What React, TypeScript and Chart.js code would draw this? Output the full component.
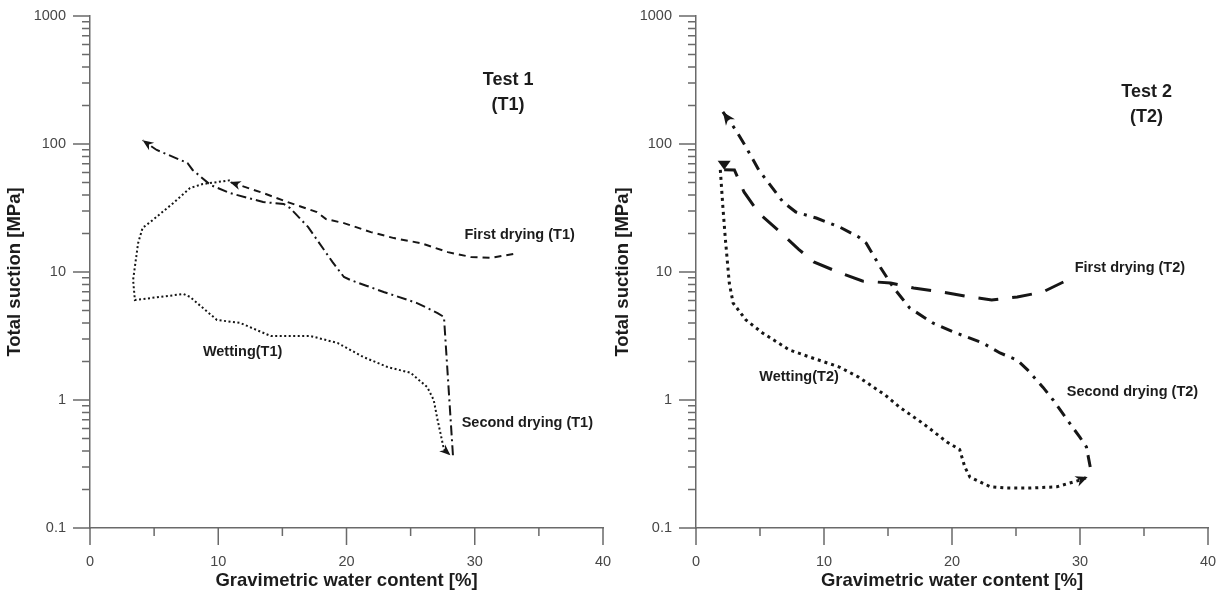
import React, { useEffect, useRef } from "react";
import { Chart, registerables } from "chart.js";

Chart.register(...registerables);

// ---------- axis ticks ----------
const X_TICKS = [0, 5, 10, 15, 20, 25, 30, 35, 40];
const X_LABELS = [0, 10, 20, 30, 40];
const Y_DECADES = [0.1, 1, 10, 100, 1000];
const Y_MINOR_MULT = [2, 3, 4, 5, 6, 7, 8, 9];

// ---------- Test 1 ----------
const T1_FIRST_X = [33.0, 31.25, 29.7, 27.9, 25.8, 23.7, 21.9, 19.8, 18.4, 17.7, 15.4, 13.5, 10.9];
const T1_FIRST_Y = [13.8, 12.9, 13.1, 14.3, 16.8, 18.4, 20.5, 24.1, 25.9, 29.4, 35.2, 41.4, 50.5];

const T1_WET_X = [10.9, 8.8, 7.8, 6.5, 4.9, 4.1, 3.75, 3.36, 3.5, 7.3, 7.8, 9.9, 11.7, 14.1, 17.2, 19.3, 21.3, 23.2, 25.0, 26.3, 26.8, 27.1, 27.6, 28.1];
const T1_WET_Y = [52, 48.7, 45.3, 34.6, 25.5, 22.1, 16.8, 8.66, 6.04, 6.73, 6.38, 4.22, 4.0, 3.16, 3.16, 2.79, 2.17, 1.81, 1.63, 1.26, 1.0, 0.7, 0.41, 0.37];

const T1_SECOND_X = [28.3, 27.6, 27.1, 25.5, 22.9, 21.6, 20.3, 19.8, 18.9, 17.0, 15.6, 15.1, 13.5, 10.9, 9.4, 8.0, 7.6, 5.2, 4.1];
const T1_SECOND_Y = [0.37, 4.45, 4.78, 5.72, 6.98, 7.78, 8.66, 9.14, 12.0, 22.5, 31.6, 34.0, 35.2, 41.4, 47.8, 62.7, 71.1, 89.8, 107];

// ---------- Test 2 ----------
const T2_FIRST_X = [28.7, 27.1, 25.1, 23.1, 21.0, 19.2, 17.0, 15.2, 13.0, 11.3, 9.2, 8.0, 6.4, 4.9, 3.75, 3.0, 2.2];
const T2_FIRST_Y = [8.35, 6.98, 6.38, 6.04, 6.49, 6.98, 7.5, 8.2, 8.5, 9.8, 12.0, 15.1, 21.3, 28.9, 42.2, 62.7, 63];

const T2_WET_X = [1.9, 2.1, 2.3, 2.6, 2.9, 3.9, 5.2, 7.3, 9.1, 11.2, 12.7, 14.8, 15.9, 17.7, 19.6, 20.6, 21.0, 21.4, 23.0, 24.3, 26.1, 28.2, 30.0, 30.6];
const T2_WET_Y = [62.7, 32.2, 17.8, 8.2, 5.72, 4.22, 3.34, 2.46, 2.13, 1.81, 1.51, 1.09, 0.88, 0.66, 0.47, 0.41, 0.3, 0.25, 0.21, 0.205, 0.205, 0.21, 0.237, 0.25];

const T2_SECOND_X = [30.8, 30.5, 30.0, 29.0, 27.9, 27.1, 25.9, 25.1, 23.75, 22.4, 20.1, 18.5, 16.7, 16.2, 15.4, 14.4, 13.3, 12.7, 11.2, 9.4, 7.8, 6.8, 5.5, 4.9, 3.9, 3.1, 2.1];
const T2_SECOND_Y = [0.3, 0.43, 0.51, 0.7, 1.0, 1.26, 1.72, 2.05, 2.33, 2.79, 3.4, 4.0, 5.23, 6.04, 7.63, 10.9, 16.8, 18.8, 22.5, 26.4, 29.4, 35.2, 52.3, 62.7, 94.8, 129, 178];

// ---------- annotations (data coordinates) ----------
const T1_NOTES = [
  { text: "Test 1", x: 32.6, y: 316, size: 18 },
  { text: "(T1)", x: 32.6, y: 202, size: 18 },
  { text: "First drying (T1)", x: 33.5, y: 19.5, size: 14.5 },
  { text: "Wetting(T1)", x: 11.9, y: 2.37, size: 14.5 },
  { text: "Second drying (T1)", x: 34.1, y: 0.66, size: 14.5 },
];
const T2_NOTES = [
  { text: "Test 2", x: 35.2, y: 255, size: 18 },
  { text: "(T2)", x: 35.2, y: 163, size: 18 },
  { text: "First drying (T2)", x: 33.9, y: 10.7, size: 14.5 },
  { text: "Second drying (T2)", x: 34.1, y: 1.15, size: 14.5 },
  { text: "Wetting(T2)", x: 8.05, y: 1.51, size: 14.5 },
];

const FONT = "'Liberation Sans', Arial, Helvetica, sans-serif";
const AXIS_COLOR = "#6a6a6a";
const LINE_COLOR = "#161616";
const TEXT_COLOR = "#1c1c1c";
const TICK_COLOR = "#474747";

const pts = (xs: number[], ys: number[]) => xs.map((x, i) => ({ x, y: ys[i] }));

const Y_TICKS: number[] = (() => {
  const t: number[] = [];
  Y_DECADES.forEach((d) => {
    t.push(d);
    if (d < 1000) Y_MINOR_MULT.forEach((m) => t.push(+(d * m).toPrecision(3)));
  });
  return t;
})();

// tick marks and tick labels drawn from the scales' own ticks
const tickMarks = {
  id: "tickMarks",
  afterDraw(chart: any) {
    const { ctx, chartArea, scales } = chart;
    const xs = scales.x;
    const ys = scales.y;
    ctx.save();
    ctx.strokeStyle = AXIS_COLOR;
    ctx.lineWidth = 1.5;
    ctx.beginPath();
    xs.ticks.forEach((t: any) => {
      const px = xs.getPixelForValue(t.value);
      const len = X_LABELS.includes(t.value) ? 17 : 8;
      ctx.moveTo(px, chartArea.bottom);
      ctx.lineTo(px, chartArea.bottom + len);
    });
    ys.ticks.forEach((t: any) => {
      const py = ys.getPixelForValue(t.value);
      const len = Y_DECADES.includes(t.value) ? 17 : 8;
      ctx.moveTo(chartArea.left, py);
      ctx.lineTo(chartArea.left - len, py);
    });
    ctx.stroke();

    ctx.fillStyle = TICK_COLOR;
    ctx.font = `14.5px ${FONT}`;
    ctx.textAlign = "center";
    ctx.textBaseline = "middle";
    X_LABELS.forEach((v) => {
      ctx.fillText(String(v), xs.getPixelForValue(v), chartArea.bottom + 34);
    });
    ctx.textAlign = "right";
    Y_DECADES.forEach((v) => {
      ctx.fillText(String(v), chartArea.left - 24, ys.getPixelForValue(v));
    });
    ctx.restore();
  },
};

const arrows = {
  id: "arrows",
  afterDatasetsDraw(chart: any) {
    const { ctx } = chart;
    chart.data.datasets.forEach((ds: any, i: number) => {
      if (!ds.arrow) return;
      const data = chart.getDatasetMeta(i).data;
      const a = data[data.length - 1];
      const b = data[data.length - 2];
      const ang = ds.arrow.angle !== undefined ? ds.arrow.angle : Math.atan2(a.y - b.y, a.x - b.x);
      const L = ds.arrow.len;
      const W = ds.arrow.width;
      const notch = ds.arrow.notch !== undefined ? ds.arrow.notch : 0.7;
      ctx.save();
      ctx.translate(a.x, a.y);
      ctx.rotate(ang);
      ctx.fillStyle = LINE_COLOR;
      ctx.beginPath();
      ctx.moveTo(0, 0);
      ctx.lineTo(-L, -W);
      ctx.lineTo(-L * notch, 0);
      ctx.lineTo(-L, W);
      ctx.closePath();
      ctx.fill();
      ctx.restore();
    });
  },
};

const notes = {
  id: "notes",
  afterDraw(chart: any, _args: any, opts: any) {
    const { ctx, scales } = chart;
    ctx.save();
    ctx.fillStyle = TEXT_COLOR;
    ctx.textAlign = "center";
    ctx.textBaseline = "middle";
    (opts.items || []).forEach((n: any) => {
      ctx.font = `bold ${n.size}px ${FONT}`;
      ctx.fillText(n.text, scales.x.getPixelForValue(n.x), scales.y.getPixelForValue(n.y));
    });
    ctx.restore();
  },
};

function line(data: any[], dash: number[], width: number, arrow?: any) {
  return {
    data,
    showLine: true,
    borderColor: LINE_COLOR,
    borderWidth: width,
    borderDash: dash,
    pointRadius: 0,
    fill: false,
    tension: 0,
    arrow,
  };
}

function makeConfig(datasets: any[], items: any[], yWidth: number, padRight: number, titlePad: number) {
  return {
    type: "scatter",
    data: { datasets },
    plugins: [tickMarks, arrows, notes],
    options: {
      responsive: false,
      animation: false,
      devicePixelRatio: 1,
      layout: { padding: { top: 16, right: padRight, left: 0, bottom: 0 } },
      plugins: {
        legend: { display: false },
        tooltip: { enabled: false },
        notes: { items },
      },
      scales: {
        x: {
          type: "linear",
          min: 0,
          max: 40,
          afterBuildTicks: (s: any) => {
            s.ticks = X_TICKS.map((v) => ({ value: v }));
          },
          afterFit: (s: any) => {
            s.height = 66;
          },
          grid: { drawOnChartArea: false, drawTicks: false },
          border: { display: true, color: AXIS_COLOR, width: 1.5 },
          ticks: { display: false, autoSkip: false, padding: 0 },
          title: {
            display: true,
            text: "Gravimetric water content [%]",
            color: TEXT_COLOR,
            font: { family: FONT, size: 18.5, weight: "bold" },
            padding: { top: 0, bottom: 2 },
          },
        },
        y: {
          type: "logarithmic",
          min: 0.1,
          max: 1000,
          afterBuildTicks: (s: any) => {
            s.ticks = Y_TICKS.map((v) => ({ value: v }));
          },
          afterFit: (s: any) => {
            s.width = yWidth;
          },
          grid: { drawOnChartArea: false, drawTicks: false },
          border: { display: true, color: AXIS_COLOR, width: 1.5 },
          ticks: { display: false, autoSkip: false, padding: 0 },
          title: {
            display: true,
            text: "Total suction [MPa]",
            color: TEXT_COLOR,
            font: { family: FONT, size: 18.5, weight: "bold" },
            padding: { top: titlePad, bottom: 0 },
          },
        },
      },
    },
  };
}

function Panel({ left, width, config }: { left: number; width: number; config: any }) {
  const ref = useRef<HTMLCanvasElement | null>(null);
  useEffect(() => {
    if (!ref.current) return;
    const chart = new Chart(ref.current, config);
    return () => chart.destroy();
  }, [config]);
  return (
    <canvas
      ref={ref}
      width={width}
      height={594}
      style={{ position: "absolute", left, top: 0, width, height: 594 }}
    />
  );
}

const T1_CONFIG = makeConfig(
  [
    line(pts(T1_FIRST_X, T1_FIRST_Y), [7, 5], 2, { len: 11, width: 4.5 }),
    line(pts(T1_WET_X, T1_WET_Y), [2, 2.5], 2, { len: 11, width: 4.5 }),
    line(pts(T1_SECOND_X, T1_SECOND_Y), [10, 4, 2, 4], 2, { len: 11, width: 4.5 }),
  ],
  T1_NOTES,
  90,
  12,
  4
);

const T2_CONFIG = makeConfig(
  [
    line(pts(T2_FIRST_X, T2_FIRST_Y), [20, 14], 3, { len: 9, width: 6.5, angle: Math.PI / 2, notch: 1 }),
    line(pts(T2_WET_X, T2_WET_Y), [3, 4], 3, { len: 12, width: 5.5 }),
    line(pts(T2_SECOND_X, T2_SECOND_Y), [12, 7, 3, 7], 3, { len: 13, width: 5.5 }),
  ],
  T2_NOTES,
  87,
  11,
  3
);

export default function App() {
  return (
    <div
      style={{
        position: "absolute",
        left: 0,
        top: 0,
        width: 1219,
        height: 594,
        background: "#ffffff",
        overflow: "hidden",
      }}
    >
      <Panel left={0} width={615} config={T1_CONFIG} />
      <Panel left={609} width={610} config={T2_CONFIG} />
    </div>
  );
}
